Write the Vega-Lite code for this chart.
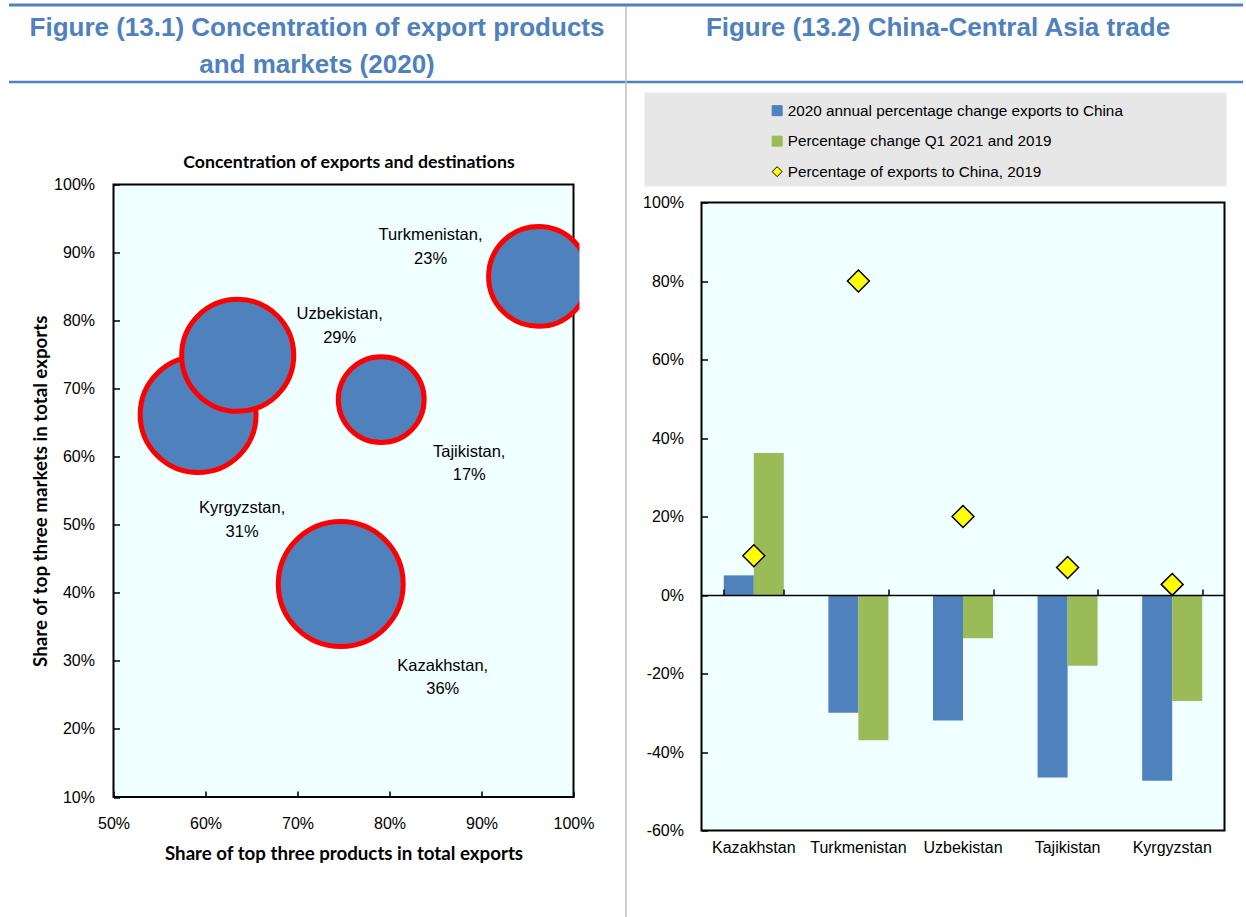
{
  "$schema": "https://vega.github.io/schema/vega-lite/v6.json",
  "usermeta": {"embedOptions": {"actions": false}},
  "background": "white",
  "padding": {"left": 8.5, "top": 3.5, "right": 0, "bottom": 0},
  "bounds": "flush",
  "spacing": 11,
  "config": {
    "view": {"stroke": null},
    "axis": {"grid": false, "labelFont": "Liberation Sans", "labelColor": "black", "labelFontSize": 16, "titleFont": "Lato", "titleColor": "black", "titleFontWeight": "bold", "titleFontSize": 18.7},
    "text": {"font": "Liberation Sans"}
  },
  "vconcat": [
    {
      "width": 1234,
      "height": 77,
      "data": {"values": [
        {"panel": "left", "row": "header", "title": "Figure (13.1) Concentration of export products\nand markets (2020)"},
        {"panel": "right", "row": "header", "title": "Figure (13.2) China-Central Asia trade"}
      ]},
      "layer": [
        {
          "transform": [{"filter": "datum.panel === 'left'"}],
          "mark": {"type": "text", "font": "Liberation Sans", "fontSize": 26, "fontWeight": "bold", "color": "#4F81BD", "lineBreak": "\n", "lineHeight": 37, "baseline": "middle", "align": "center", "dy": -15.5},
          "encoding": {
            "x": {"field": "panel", "type": "nominal", "scale": {"domain": ["left", "right"], "paddingInner": 0, "paddingOuter": 0},
              "axis": {"orient": "top", "title": null, "labels": false, "domainColor": "#4F81BD", "domainWidth": 3, "tickBand": "extent", "tickSize": -912, "tickWidth": 1.5, "tickColor": "#BFBFBF", "tickOpacity": {"condition": {"test": "datum.value === 'left'", "value": 1}, "value": 0}, "zindex": 1}},
            "y": {"field": "row", "type": "nominal", "scale": {"paddingInner": 0, "paddingOuter": 0}, "axis": null},
            "text": {"field": "title"}
          }
        },
        {
          "transform": [{"filter": "datum.panel === 'right'"}],
          "mark": {"type": "text", "font": "Liberation Sans", "fontSize": 26, "fontWeight": "bold", "color": "#4F81BD", "baseline": "middle", "align": "center", "dy": -15.5, "dx": 4},
          "encoding": {
            "x": {"field": "panel", "type": "nominal", "scale": {"domain": ["left", "right"], "paddingInner": 0, "paddingOuter": 0},
              "axis": {"orient": "bottom", "title": null, "labels": false, "ticks": false, "domainColor": "#4F81BD", "domainWidth": 2.5}},
            "y": {"field": "row", "type": "nominal", "scale": {"paddingInner": 0, "paddingOuter": 0}, "axis": null},
            "text": {"field": "title"}
          }
        }
      ],
      "resolve": {"axis": {"x": "independent"}}
    },
    {
      "hconcat": [
        {
          "width": 618,
          "height": 824,
          "data": {"values": [
            {"country": "Kazakhstan", "products": 74.7, "markets": 41.3, "share": 36, "label": "Kazakhstan,\n36%"},
            {"country": "Kyrgyzstan", "products": 59.2, "markets": 66.2, "share": 31, "label": "Kyrgyzstan,\n31%"},
            {"country": "Tajikistan", "products": 79.1, "markets": 68.4, "share": 17, "label": "Tajikistan,\n17%"},
            {"country": "Turkmenistan", "products": 96.2, "markets": 86.5, "share": 23, "label": "Turkmenistan,\n23%"},
            {"country": "Uzbekistan", "products": 63.5, "markets": 74.9, "share": 29, "label": "Uzbekistan,\n29%"}
          ]},
          "layer": [
            {
              "data": {"values": [{}]},
              "mark": {"type": "rect", "fill": "#F0FFFF", "stroke": "black", "strokeWidth": 2},
              "encoding": {
                "x": {"datum": 50, "type": "quantitative", "scale": {"domain": [50, 100], "range": [105, 565], "nice": false, "zero": false},
                  "axis": {"orient": "bottom", "offset": -119.5, "values": [50, 60, 70, 80, 90, 100], "labelExpr": "datum.value + '%'", "labelFlush": false, "tickSize": -6, "tickWidth": 1.5, "tickColor": "black", "domain": false, "labelPadding": 24.8, "title": "Share of top three products in total exports", "titleY": 56, "titleBaseline": "middle", "zindex": 1}},
                "x2": {"datum": 100},
                "y": {"datum": 10, "type": "quantitative", "scale": {"domain": [10, 100], "range": [704.5, 92], "nice": false, "zero": false},
                  "axis": {"orient": "left", "offset": -105, "values": [10, 20, 30, 40, 50, 60, 70, 80, 90, 100], "labelExpr": "datum.value + '%'", "tickSize": -6, "tickWidth": 1.5, "tickColor": "black", "domain": false, "labelPadding": 25, "title": "Share of top three markets in total exports", "titleX": -73, "titleBaseline": "middle", "zindex": 1}},
                "y2": {"datum": 100}
              }
            },
            {
              "mark": {"type": "point", "filled": true, "fill": "#4F81BD", "stroke": "#FF0000", "strokeWidth": 5, "opacity": 1},
              "encoding": {
                "x": {"field": "products", "type": "quantitative", "scale": {"domain": [50, 100], "range": [105, 565], "nice": false, "zero": false},
                  "axis": {"orient": "top", "offset": -92, "domain": false, "ticks": false, "labels": false, "title": "Concentration of exports and destinations", "titleFontSize": 17.7, "titleX": 340, "titleY": -22, "titleBaseline": "middle"}},
                "y": {"field": "markets", "type": "quantitative", "scale": {"domain": [10, 100], "range": [704.5, 92], "nice": false, "zero": false}, "axis": null},
                "size": {"field": "share", "type": "quantitative", "scale": {"domain": [0, 36], "range": [0, 15600]}, "legend": null}
              }
            },
            {
              "data": {"values": [{}]},
              "mark": {"type": "rect", "fill": "white"},
              "encoding": {
                "x": {"datum": 100.65, "type": "quantitative", "scale": {"domain": [50, 100], "range": [105, 565], "nice": false, "zero": false}, "axis": null},
                "x2": {"datum": 105},
                "y": {"datum": 70, "type": "quantitative", "scale": {"domain": [10, 100], "range": [704.5, 92], "nice": false, "zero": false}, "axis": null},
                "y2": {"datum": 100}
              }
            },
            {
              "transform": [{"filter": "datum.country === 'Turkmenistan'"}],
              "mark": {"type": "text", "dx": -108, "dy": -41, "lineBreak": "\n", "fontSize": 16.5, "lineHeight": 23.5, "color": "black", "align": "center", "baseline": "middle"},
              "encoding": {
                "x": {"field": "products", "type": "quantitative", "scale": {"domain": [50, 100], "range": [105, 565], "nice": false, "zero": false}, "axis": null},
                "y": {"field": "markets", "type": "quantitative", "scale": {"domain": [10, 100], "range": [704.5, 92], "nice": false, "zero": false}, "axis": null},
                "text": {"field": "label"}
              }
            },
            {
              "transform": [{"filter": "datum.country === 'Uzbekistan'"}],
              "mark": {"type": "text", "dx": 102, "dy": -41, "lineBreak": "\n", "fontSize": 16.5, "lineHeight": 23.5, "color": "black", "align": "center", "baseline": "middle"},
              "encoding": {
                "x": {"field": "products", "type": "quantitative", "scale": {"domain": [50, 100], "range": [105, 565], "nice": false, "zero": false}, "axis": null},
                "y": {"field": "markets", "type": "quantitative", "scale": {"domain": [10, 100], "range": [704.5, 92], "nice": false, "zero": false}, "axis": null},
                "text": {"field": "label"}
              }
            },
            {
              "transform": [{"filter": "datum.country === 'Tajikistan'"}],
              "mark": {"type": "text", "dx": 88, "dy": 52, "lineBreak": "\n", "fontSize": 16.5, "lineHeight": 23.5, "color": "black", "align": "center", "baseline": "middle"},
              "encoding": {
                "x": {"field": "products", "type": "quantitative", "scale": {"domain": [50, 100], "range": [105, 565], "nice": false, "zero": false}, "axis": null},
                "y": {"field": "markets", "type": "quantitative", "scale": {"domain": [10, 100], "range": [704.5, 92], "nice": false, "zero": false}, "axis": null},
                "text": {"field": "label"}
              }
            },
            {
              "transform": [{"filter": "datum.country === 'Kyrgyzstan'"}],
              "mark": {"type": "text", "dx": 44, "dy": 93.5, "lineBreak": "\n", "fontSize": 16.5, "lineHeight": 23.5, "color": "black", "align": "center", "baseline": "middle"},
              "encoding": {
                "x": {"field": "products", "type": "quantitative", "scale": {"domain": [50, 100], "range": [105, 565], "nice": false, "zero": false}, "axis": null},
                "y": {"field": "markets", "type": "quantitative", "scale": {"domain": [10, 100], "range": [704.5, 92], "nice": false, "zero": false}, "axis": null},
                "text": {"field": "label"}
              }
            },
            {
              "transform": [{"filter": "datum.country === 'Kazakhstan'"}],
              "mark": {"type": "text", "dx": 102, "dy": 82, "lineBreak": "\n", "fontSize": 16.5, "lineHeight": 23.5, "color": "black", "align": "center", "baseline": "middle"},
              "encoding": {
                "x": {"field": "products", "type": "quantitative", "scale": {"domain": [50, 100], "range": [105, 565], "nice": false, "zero": false}, "axis": null},
                "y": {"field": "markets", "type": "quantitative", "scale": {"domain": [10, 100], "range": [704.5, 92], "nice": false, "zero": false}, "axis": null},
                "text": {"field": "label"}
              }
            }
          ],
          "resolve": {"axis": {"x": "independent", "y": "independent"}}
        },
        {
          "vconcat": [
            {
              "width": 582,
              "height": 94,
              "view": {"fill": "#E7E7E7", "stroke": null},
              "data": {"values": [{"k": "box"}]},
              "mark": {"type": "point", "opacity": 0},
              "encoding": {
                "x": {"field": "k", "type": "nominal", "axis": null},
                "y": {"field": "k", "type": "nominal", "axis": null}
              }
            },
            {
              "width": 618,
              "height": 730,
              "data": {"values": [
                {"country": "Kazakhstan", "series": "2020 annual percentage change exports to China", "value": 5},
                {"country": "Kazakhstan", "series": "Percentage change Q1 2021 and 2019", "value": 36.2},
                {"country": "Kazakhstan", "series": "Percentage of exports to China, 2019", "value": 10},
                {"country": "Turkmenistan", "series": "2020 annual percentage change exports to China", "value": -30},
                {"country": "Turkmenistan", "series": "Percentage change Q1 2021 and 2019", "value": -37},
                {"country": "Turkmenistan", "series": "Percentage of exports to China, 2019", "value": 80},
                {"country": "Uzbekistan", "series": "2020 annual percentage change exports to China", "value": -32},
                {"country": "Uzbekistan", "series": "Percentage change Q1 2021 and 2019", "value": -11},
                {"country": "Uzbekistan", "series": "Percentage of exports to China, 2019", "value": 20},
                {"country": "Tajikistan", "series": "2020 annual percentage change exports to China", "value": -46.5},
                {"country": "Tajikistan", "series": "Percentage change Q1 2021 and 2019", "value": -18},
                {"country": "Tajikistan", "series": "Percentage of exports to China, 2019", "value": 7},
                {"country": "Kyrgyzstan", "series": "2020 annual percentage change exports to China", "value": -47.3},
                {"country": "Kyrgyzstan", "series": "Percentage change Q1 2021 and 2019", "value": -27},
                {"country": "Kyrgyzstan", "series": "Percentage of exports to China, 2019", "value": 2.7}
              ]},
              "layer": [
                {
                  "data": {"values": [{}]},
                  "mark": {"type": "rect", "fill": "#F0FFFF", "stroke": "black", "strokeWidth": 2},
                  "encoding": {
                    "x": {"datum": 0, "type": "quantitative", "scale": {"domain": [0, 1], "range": [75, 598], "nice": false, "zero": false}, "axis": null},
                    "x2": {"datum": 1},
                    "y": {"datum": -60, "type": "quantitative", "scale": {"domain": [-60, 100], "range": [644, 16], "nice": false, "zero": false},
                      "axis": {"orient": "left", "offset": -75, "values": [-60, -40, -20, 0, 20, 40, 60, 80, 100], "labelExpr": "datum.value + '%'", "tickSize": -6, "tickWidth": 1.5, "tickColor": "black", "domain": false, "labelPadding": 24, "title": null, "zindex": 1}},
                    "y2": {"datum": 100}
                  }
                },
                {
                  "transform": [{"filter": "datum.series !== 'Percentage of exports to China, 2019'"}],
                  "mark": {"type": "bar"},
                  "encoding": {
                    "x": {"field": "country", "type": "nominal", "scale": {"domain": ["Kazakhstan", "Turkmenistan", "Uzbekistan", "Tajikistan", "Kyrgyzstan"], "range": [75, 598], "paddingInner": 0.426, "paddingOuter": 0.213},
                      "axis": {"orient": "bottom", "offset": -86, "title": null, "domain": false, "ticks": false, "tickSize": 0, "labelPadding": 9, "labelAngle": 0, "zindex": 1}},
                    "xOffset": {"field": "series", "type": "nominal", "scale": {"domain": ["2020 annual percentage change exports to China", "Percentage change Q1 2021 and 2019"], "paddingInner": 0, "paddingOuter": 0}},
                    "y": {"field": "value", "type": "quantitative", "scale": {"domain": [-60, 100], "range": [644, 16], "nice": false, "zero": false}, "axis": null},
                    "color": {"field": "series", "type": "nominal",
                      "scale": {"domain": ["2020 annual percentage change exports to China", "Percentage change Q1 2021 and 2019", "Percentage of exports to China, 2019"], "range": ["#4F81BD", "#9BBB59", "#FFFF00"]},
                      "legend": {"title": null, "orient": "none", "legendX": 761, "legendY": 98.5, "direction": "vertical", "labelFont": "Liberation Sans", "labelFontSize": 15.3, "labelColor": "black", "labelLimit": 600, "symbolSize": 100, "symbolStrokeWidth": 1, "rowPadding": 14.5, "labelOffset": 3, "padding": 0}}
                  }
                },
                {
                  "transform": [{"filter": "datum.series === 'Percentage of exports to China, 2019'"}],
                  "mark": {"type": "point", "filled": true, "size": 480, "strokeWidth": 1.5, "opacity": 1},
                  "encoding": {
                    "x": {"field": "country", "type": "nominal", "scale": {"domain": ["Kazakhstan", "Turkmenistan", "Uzbekistan", "Tajikistan", "Kyrgyzstan"], "range": [75, 598], "paddingInner": 0.426, "paddingOuter": 0.213},
                      "axis": {"orient": "top", "offset": -408.5, "title": null, "labels": false, "domain": true, "domainColor": "black", "domainWidth": 1.5, "ticks": true, "tickBand": "extent", "tickSize": 6, "tickWidth": 1.5, "tickColor": "black", "zindex": 1}},
                    "y": {"field": "value", "type": "quantitative", "scale": {"domain": [-60, 100], "range": [644, 16], "nice": false, "zero": false}, "axis": null},
                    "color": {"field": "series", "type": "nominal",
                      "scale": {"domain": ["2020 annual percentage change exports to China", "Percentage change Q1 2021 and 2019", "Percentage of exports to China, 2019"], "range": ["#4F81BD", "#9BBB59", "#FFFF00"]},
                      "legend": {"title": null, "orient": "none", "legendX": 761, "legendY": 98.5, "direction": "vertical", "labelFont": "Liberation Sans", "labelFontSize": 15.3, "labelColor": "black", "labelLimit": 600, "symbolSize": 100, "symbolStrokeWidth": 1, "rowPadding": 14.5, "labelOffset": 3, "padding": 0}},
                    "shape": {"field": "series", "type": "nominal",
                      "scale": {"domain": ["2020 annual percentage change exports to China", "Percentage change Q1 2021 and 2019", "Percentage of exports to China, 2019"], "range": ["square", "square", "diamond"]},
                      "legend": {"title": null, "orient": "none", "legendX": 761, "legendY": 98.5, "direction": "vertical", "labelFont": "Liberation Sans", "labelFontSize": 15.3, "labelColor": "black", "labelLimit": 600, "symbolSize": 100, "symbolStrokeWidth": 1, "rowPadding": 14.5, "labelOffset": 3, "padding": 0}},
                    "stroke": {"field": "series", "type": "nominal",
                      "scale": {"domain": ["2020 annual percentage change exports to China", "Percentage change Q1 2021 and 2019", "Percentage of exports to China, 2019"], "range": ["#4F81BD", "#9BBB59", "#000000"]},
                      "legend": {"title": null, "orient": "none", "legendX": 761, "legendY": 98.5, "direction": "vertical", "labelFont": "Liberation Sans", "labelFontSize": 15.3, "labelColor": "black", "labelLimit": 600, "symbolSize": 100, "symbolStrokeWidth": 1, "rowPadding": 14.5, "labelOffset": 3, "padding": 0}}
                  }
                }
              ],
              "resolve": {"scale": {"x": "independent"}, "axis": {"x": "independent", "y": "independent"}}
            }
          ],
          "spacing": 0,
          "center": true,
          "bounds": "flush"
        }
      ],
      "spacing": 0,
      "bounds": "flush"
    }
  ]
}
